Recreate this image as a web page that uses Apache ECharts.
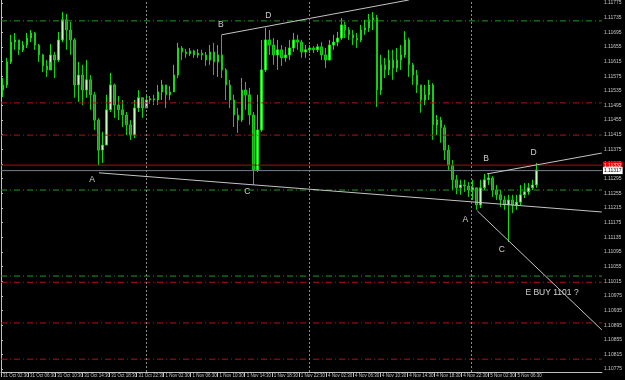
<!DOCTYPE html>
<html style="height: 100%">
<head>
<meta charset="utf-8">
</head>
<body style="height: 100%; margin: 0; background: #000">
<div id="container" style="width: 625px; height: 380px"></div>
<script src="https://cdn.jsdelivr.net/npm/echarts@6/dist/echarts.min.js"></script>
<script type="text/javascript">
var firstOpen = 1.11537;
var closes = [1.11551,1.11614,1.11668,1.11674,1.11647,1.11660,1.11679,1.11693,1.11660,1.11633,
  1.11603,1.11592,1.11633,1.11619,1.11674,1.11729,1.11701,1.11674,1.11551,1.11578,
  1.11537,1.11565,1.11524,1.11455,1.11373,1.11387,1.11483,1.11551,1.11496,1.11483,
  1.11469,1.11442,1.11414,1.11488,1.11516,1.11488,1.11510,1.11513,1.11510,1.11532,
  1.11551,1.11524,1.11532,1.11578,1.11652,1.11641,1.11636,1.11644,1.11633,1.11638,
  1.11633,1.11619,1.11641,1.11614,1.11633,1.11592,1.11551,1.11510,1.11469,1.11455,
  1.11537,1.11524,1.11469,1.11319,1.11428,1.11592,1.11674,1.11660,1.11633,1.11647,
  1.11625,1.11633,1.11652,1.11674,1.11668,1.11641,1.11647,1.11652,1.11647,1.11655,
  1.11633,1.11619,1.11660,1.11668,1.11679,1.11715,1.11701,1.11688,1.11679,1.11674,
  1.11701,1.11707,1.11729,1.11734,1.11537,1.11606,1.11592,1.11619,1.11597,1.11619,
  1.11633,1.11674,1.11606,1.11578,1.11551,1.11510,1.11524,1.11551,1.11442,1.11455,
  1.11434,1.11373,1.11332,1.11292,1.11270,1.11278,1.11275,1.11264,1.11270,1.11223,
  1.11270,1.11292,1.11297,1.11264,1.11251,1.11237,1.11223,1.11237,1.11223,1.11231,
  1.11251,1.11259,1.11270,1.11278,1.11319];
var highs = [1.11570,1.11625,1.11688,1.11693,1.11668,1.11671,1.11693,1.11701,1.11696,1.11663,
  1.11636,1.11619,1.11663,1.11641,1.11696,1.11750,1.11745,1.11723,1.11679,1.11614,
  1.11606,1.11619,1.11578,1.11532,1.11460,1.11423,1.11524,1.11584,1.11555,1.11521,
  1.11510,1.11477,1.11455,1.11510,1.11537,1.11516,1.11521,1.11521,1.11524,1.11551,
  1.11565,1.11551,1.11548,1.11606,1.11666,1.11657,1.11649,1.11652,1.11647,1.11649,
  1.11647,1.11641,1.11660,1.11666,1.11660,1.11688,1.11597,1.11565,1.11524,1.11488,
  1.11570,1.11559,1.11543,1.11477,1.11524,1.11674,1.11707,1.11701,1.11679,1.11674,
  1.11660,1.11655,1.11674,1.11693,1.11688,1.11674,1.11660,1.11660,1.11657,1.11663,
  1.11668,1.11652,1.11674,1.11688,1.11696,1.11734,1.11723,1.11709,1.11701,1.11693,
  1.11715,1.11729,1.11745,1.11750,1.11742,1.11633,1.11625,1.11647,1.11647,1.11652,
  1.11660,1.11698,1.11680,1.11611,1.11592,1.11551,1.11551,1.11565,1.11556,1.11469,
  1.11464,1.11442,1.11387,1.11346,1.11305,1.11292,1.11292,1.11286,1.11292,1.11270,
  1.11292,1.11308,1.11308,1.11302,1.11278,1.11264,1.11248,1.11251,1.11251,1.11251,
  1.11278,1.11283,1.11283,1.11292,1.11338];
var lows = [1.11518,1.11543,1.11608,1.11647,1.11633,1.11641,1.11652,1.11668,1.11647,1.11614,
  1.11586,1.11573,1.11614,1.11570,1.11614,1.11668,1.11647,1.11633,1.11516,1.11505,
  1.11496,1.11516,1.11483,1.11428,1.11332,1.11338,1.11387,1.11477,1.11461,1.11455,
  1.11436,1.11414,1.11401,1.11406,1.11477,1.11461,1.11488,1.11499,1.11496,1.11496,
  1.11510,1.11488,1.11510,1.11532,1.11570,1.11619,1.11625,1.11630,1.11625,1.11625,
  1.11619,1.11603,1.11606,1.11578,1.11573,1.11570,1.11510,1.11488,1.11436,1.11420,
  1.11450,1.11483,1.11442,1.11278,1.11313,1.11423,1.11586,1.11633,1.11606,1.11592,
  1.11603,1.11614,1.11619,1.11641,1.11647,1.11625,1.11625,1.11638,1.11638,1.11641,
  1.11619,1.11597,1.11619,1.11647,1.11657,1.11674,1.11679,1.11674,1.11660,1.11652,
  1.11668,1.11688,1.11696,1.11701,1.11491,1.11524,1.11570,1.11578,1.11565,1.11586,
  1.11592,1.11625,1.11573,1.11551,1.11529,1.11475,1.11496,1.11510,1.11401,1.11414,
  1.11393,1.11346,1.11319,1.11264,1.11253,1.11251,1.11259,1.11245,1.11237,1.11210,
  1.11215,1.11264,1.11278,1.11245,1.11237,1.11218,1.11210,1.11122,1.11201,1.11210,
  1.11223,1.11242,1.11251,1.11264,1.11270];
var slotCount = 151;

var priceTicks = [1.10775,1.10815,1.10855,1.10895,1.10935,1.10975,1.11015,1.11055,1.11095,1.11135,
  1.11175,1.11215,1.11255,1.11295,1.11335,1.11375,1.11415,1.11455,1.11495,1.11535,
  1.11575,1.11615,1.11655,1.11695,1.11735,1.11775];
var timeLabels = ['31 Oct 02:30','31 Oct 06:30','31 Oct 10:30','31 Oct 14:30','31 Oct 18:30','31 Oct 22:30',
  '1 Nov 02:30','1 Nov 06:30','1 Nov 10:30','1 Nov 14:30','1 Nov 18:30','1 Nov 22:30',
  '4 Nov 02:30','4 Nov 06:30','4 Nov 10:30','4 Nov 14:30','4 Nov 18:30','4 Nov 22:30',
  '5 Nov 02:30','5 Nov 06:30'];
// time in units of 4h label steps
var daySeparators = [5.375, 11.375, 17.375];
var timeMax = 22.194;

var greenLevels = [1.11726, 1.11264, 1.11029];
var redLevels = [1.11502, 1.11414, 1.11012, 1.10901, 1.10802];
var askPrice = 1.11332;
var bidPrice = 1.11317;

var trendLines = [
  [[3.62, 1.11311], [22.19, 1.11204]],
  [[8.15, 1.11688], [15.06, 1.11783]],
  [[17.95, 1.11308], [22.19, 1.11365]],
  [[17.59, 1.11207], [22.19, 1.10882]]
];
var notes = [
  ['A', 3.36, 1.11291], ['B', 8.12, 1.11715], ['D', 9.87, 1.11739], ['C', 9.10, 1.11259],
  ['A', 17.15, 1.11182], ['B', 17.92, 1.11351], ['D', 19.67, 1.11365], ['C', 18.50, 1.11100],
  ['E BUY 1101 ?', 20.35, 1.10983]
];

var candles = [];
var prev = firstOpen;
for (var i = 0; i < closes.length; i++) {
  candles.push([prev, closes[i], lows[i], highs[i]]);
  prev = closes[i];
}
var slots = [];
for (var i = 0; i < slotCount; i++) slots.push(String(i));

var dashDot = [6, 3, 1, 3];
function levelSeries(v, color, type, tag) {
  var s = {
    type: 'line',
    xAxisIndex: 1,
    yAxisIndex: 0,
    data: [[0, v], [timeMax, v]],
    symbol: 'none',
    silent: true,
    lineStyle: { color: color, type: type, width: 1 }
  };
  if (tag) {
    s.endLabel = {
      show: true,
      distance: 1,
      formatter: v.toFixed(5),
      backgroundColor: tag.bg,
      color: tag.fg,
      fontSize: 5,
      fontFamily: 'Liberation Sans',
      padding: [1, 1]
    };
  }
  return s;
}

var series = [
  {
    type: 'line',
    xAxisIndex: 1,
    yAxisIndex: 0,
    data: [],
    markLine: {
      silent: true,
      symbol: 'none',
      animation: false,
      label: { show: false },
      lineStyle: { color: '#8a8a8a', type: [2, 2], width: 1 },
      data: daySeparators.map(function (v) { return { xAxis: v }; })
    }
  }
];
greenLevels.forEach(function (v) { series.push(levelSeries(v, '#1f9a1f', dashDot)); });
redLevels.forEach(function (v) { series.push(levelSeries(v, '#b01414', dashDot)); });
series.push(levelSeries(askPrice, '#a81010', 'solid', { bg: '#ee0000', fg: '#ffffff' }));
series.push(levelSeries(bidPrice, '#76808c', 'solid', { bg: '#ffffff', fg: '#000000' }));

series.push({
  type: 'candlestick',
  xAxisIndex: 0,
  yAxisIndex: 0,
  data: candles,
  barWidth: 2,
  itemStyle: {
    color: '#c0ffb8',
    color0: '#12a012',
    borderColor: '#10e010',
    borderColor0: '#10d010',
    borderWidth: 1
  }
});
trendLines.forEach(function (seg) {
  series.push({
    type: 'line',
    xAxisIndex: 1,
    yAxisIndex: 0,
    data: seg,
    symbol: 'none',
    silent: true,
    lineStyle: { color: '#c4c4c4', width: 1 }
  });
});
series.push({
  type: 'scatter',
  xAxisIndex: 1,
  yAxisIndex: 0,
  symbolSize: 1,
  silent: true,
  itemStyle: { color: 'rgba(0,0,0,0)' },
  label: {
    show: true,
    position: 'inside',
    formatter: '{b}',
    color: '#ffffff',
    fontSize: 8.5,
    fontFamily: 'Liberation Sans'
  },
  data: notes.map(function (n) { return { name: n[0], value: [n[1], n[2]] }; })
});

var chart = echarts.init(document.getElementById('container'));
chart.setOption({
  backgroundColor: '#000000',
  animation: false,
  grid: { left: -2, right: 20, top: 0, bottom: 8 },
  xAxis: [
    {
      type: 'category',
      data: slots,
      boundaryGap: true,
      show: false
    },
    {
      type: 'value',
      position: 'bottom',
      min: 0,
      max: timeMax,
      splitLine: { show: false },
      axisLine: { show: true, lineStyle: { color: '#c0c0c0', width: 1 } },
      axisTick: { show: true, length: 5, lineStyle: { color: '#c0c0c0' },
        customValues: timeLabels.map(function (t, i) { return i; }) },
      axisLabel: {
        customValues: timeLabels.map(function (t, i) { return i; }),
        formatter: function (v) { return timeLabels[Math.round(v)]; },
        align: 'left',
        padding: [0, 0, 0, 2],
        margin: 1,
        color: '#c8c8c8',
        fontSize: 4.5,
        fontFamily: 'Liberation Sans'
      }
    }
  ],
  yAxis: {
    type: 'value',
    position: 'right',
    min: 1.10767,
    max: 1.11783,
    scale: true,
    splitLine: { show: false },
    axisLine: { show: true, lineStyle: { color: '#c0c0c0', width: 1 } },
    axisTick: { show: true, length: 2, lineStyle: { color: '#c0c0c0' }, customValues: priceTicks },
    axisLabel: {
      customValues: priceTicks,
      formatter: function (v) { return v.toFixed(5); },
      margin: 2,
      color: '#c8c8c8',
      fontSize: 5,
      fontFamily: 'Liberation Sans'
    }
  },
  series: series
});
</script>
</body>
</html>
